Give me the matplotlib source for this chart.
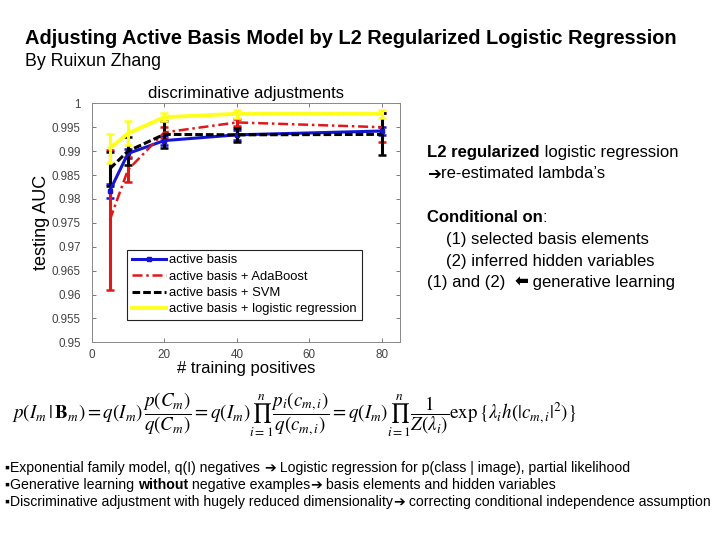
import matplotlib
matplotlib.use("Agg")
import matplotlib.pyplot as plt

# ---------------- data ----------------
x_pos = [5, 10, 20, 40, 80]
series_labels = ["active basis", "active basis + AdaBoost",
                 "active basis + SVM", "active basis + logistic regression"]
auc_active = [0.9817, 0.9895, 0.9922, 0.9934, 0.9942]
err_active = [0.0015, 0.0010, 0.0010, 0.0010, 0.0008]
auc_ada = [0.9756, 0.9861, 0.9939, 0.9960, 0.9950]
err_ada = [0.0146, 0.0026, 0.0012, 0.0008, 0.0030]
auc_svm = [0.9863, 0.9900, 0.9935, 0.9934, 0.9935]
err_svm = [0.0035, 0.0030, 0.0028, 0.0014, 0.0044]
auc_lr = [0.9906, 0.9937, 0.9971, 0.9978, 0.9978]
err_lr = [0.0030, 0.0025, 0.0008, 0.0008, 0.0008]
x_ticks = [0, 20, 40, 60, 80]
y_ticks = [0.95, 0.955, 0.96, 0.965, 0.97, 0.975, 0.98, 0.985, 0.99, 0.995, 1.0]
y_tick_labels = ["0.95", "0.955", "0.96", "0.965", "0.97", "0.975", "0.98",
                 "0.985", "0.99", "0.995", "1"]

W, H = 720, 540
fig = plt.figure(figsize=(7.2, 5.4), dpi=100)
fig.patch.set_facecolor("white")
SANS = ["Liberation Sans", "DejaVu Sans"]

ax = fig.add_axes([91.7 / W, 1 - 342.3 / H, (400 - 91.7) / W, 239 / H])

styles = [
    dict(color="#1414d2", ls="-", lw=2.2, marker="s", ms=3.5),
    dict(color="#e01818", ls=(0, (4, 1.5, 1, 1.5)), lw=1.8, marker=None),
    dict(color="black", ls=(0, (2.5, 1)), lw=2.2, marker=None),
    dict(color="#ffff1e", ls="-", lw=2.8, marker=None),
]
data = [(auc_active, err_active), (auc_ada, err_ada), (auc_svm, err_svm), (auc_lr, err_lr)]
handles = []
for (vals, errs), st, lab in zip(data, styles, series_labels):
    ax.errorbar(x_pos, vals, yerr=errs, fmt="none", ecolor=st["color"],
                elinewidth=2.2, capsize=3, capthick=1.8, zorder=2)
    ln, = ax.plot(x_pos, vals, color=st["color"], ls=st["ls"], lw=st["lw"],
                  marker=st["marker"], ms=st.get("ms", 0), label=lab, zorder=3)
    handles.append(ln)

ax.set_xlim(0, 85)
ax.set_ylim(0.95, 1.0)
ax.set_xticks(x_ticks)
ax.set_yticks(y_ticks)
ax.set_yticklabels(y_tick_labels)
ax.tick_params(direction="in", top=True, right=True, length=3, width=0.6,
               labelsize=8.4, labelcolor="#444444", colors="#666666", pad=8)
ax.tick_params(axis="x", pad=5)
for lab in ax.get_xticklabels() + ax.get_yticklabels():
    lab.set_family(SANS)
for s in ax.spines.values():
    s.set_color("#888888")
    s.set_linewidth(0.7)
ax.set_title("discriminative adjustments", fontsize=12, family=SANS, pad=4)
ax.set_xlabel("# training positives", fontsize=12, family=SANS, labelpad=0)
yl = ax.set_ylabel("testing AUC", fontsize=13, family=SANS)
yl.set_va("center")
ax.yaxis.set_label_coords((42 - 91.7) / 308.3, 0.5)

leg = ax.legend(handles=handles, loc="lower left",
                bbox_to_anchor=((127 - 91.7) / 308.3, (342.3 - 320) / 239),
                borderaxespad=0, fancybox=False, edgecolor="#222222",
                framealpha=1, prop={"family": SANS, "size": 9.4},
                handlelength=2.6, handletextpad=0.3, labelspacing=0.32,
                borderpad=0.35)
leg.get_frame().set_linewidth(0.8)

# ---------------- slide text ----------------
renderer = fig.canvas.get_renderer()


def place(x, y, s, width=None, **kw):
    t = fig.text(x / W, 1 - y / H, s, va="center", ha="left", **kw)
    if width is not None:
        bb = t.get_window_extent(renderer)
        t.set_fontsize(t.get_fontsize() * width / bb.width)
    return t


def place_runs(x, y, runs, size):
    """runs: list of (text, weight)"""
    cur = x
    for s, w in runs:
        t = fig.text(cur / W, 1 - y / H, s, va="center", ha="left",
                     fontsize=size, weight=w, family=SANS)
        bb = t.get_window_extent(renderer)
        cur += bb.width


place(25, 39, "Adjusting Active Basis Model by L2 Regularized Logistic Regression",
      width=653, weight="bold", family=SANS, fontsize=13.5)
place(25, 61, "By Ruixun Zhang", width=137, family=SANS, fontsize=12)

rs = 12
place_runs(427, 153, [("L2 regularized", "bold"), (" logistic regression", "normal")], rs)
place_runs(427, 174, [("\u2794", "bold"), ("re-estimated lambda\u2019s", "normal")], rs)
place_runs(427, 217, [("Conditional on", "bold"), (":", "normal")], rs)
place_runs(446, 239, [("(1) selected basis elements", "normal")], rs)
place_runs(446, 261, [("(2) inferred hidden variables", "normal")], rs)
place_runs(427, 282, [("(1) and (2)  ", "normal"), ("\u2B05", "bold"),
                      (" generative learning", "normal")], rs)

plt.rcParams["mathtext.fontset"] = "stix"
eq = (r"$p(I_m\,|\,\mathbf{B}_m)=q(I_m)\,\dfrac{p(C_m)}{q(C_m)}"
      r"=q(I_m)\prod_{i=1}^{n}\dfrac{p_i(c_{m,i})}{q(c_{m,i})}"
      r"=q(I_m)\prod_{i=1}^{n}\dfrac{1}{Z(\lambda_i)}\exp\{\lambda_i h(|c_{m,i}|^2)\}$")
place(12, 415, eq, width=563, fontsize=16)

bs = 10
NARROW = ["Liberation Sans Narrow", "Liberation Sans", "DejaVu Sans"]


def bullet_line(y, runs, width):
    texts = []
    cur = 5
    for s, w in runs:
        t = fig.text(cur / W, 1 - y / H, s, va="center", ha="left",
                     fontsize=bs, weight=w, family=NARROW)
        texts.append(t)
        cur += t.get_window_extent(renderer).width
    total = cur - 5
    scale = width / total
    cur = 5
    for t in texts:
        t.set_fontsize(bs * scale)
        t.set_x(cur / W)
        cur += t.get_window_extent(renderer).width


bullet_line(468, [("\u25aaExponential family model, q(I) negatives ", "normal"),
                  ("\u2794", "bold"),
                  (" Logistic regression for p(class | image), partial likelihood", "normal")], 625)
bullet_line(485, [("\u25aaGenerative learning ", "normal"), ("without", "bold"),
                  (" negative examples", "normal"), ("\u2794", "bold"),
                  (" basis elements and hidden variables", "normal")], 548)
bullet_line(502, [("\u25aaDiscriminative adjustment with hugely reduced dimensionality", "normal"),
                  ("\u2794", "bold"),
                  (" correcting conditional independence assumption", "normal")], 702)

fig.savefig("out.png", dpi=100, facecolor="white")
